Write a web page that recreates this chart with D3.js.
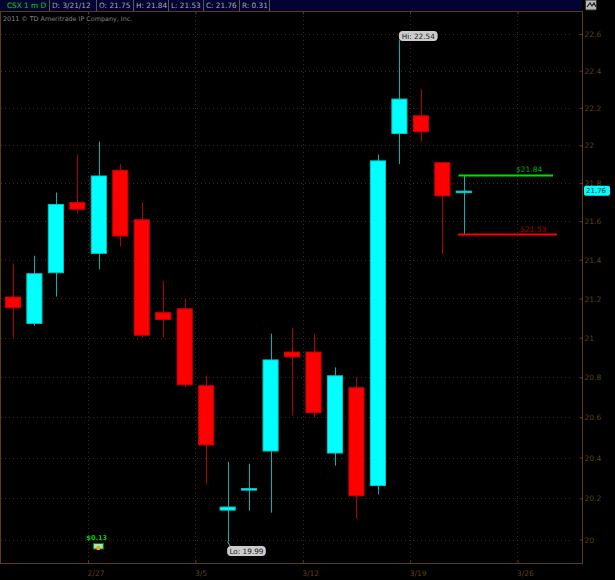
<!DOCTYPE html>
<html><head><meta charset="utf-8">
<style>html,body{margin:0;padding:0;background:#000}svg{display:block}text{font-family:"DejaVu Sans",sans-serif}</style>
<script src="https://cdnjs.cloudflare.com/ajax/libs/d3/7.8.5/d3.min.js"></script>
</head><body><svg id="c" width="615" height="580"></svg>
<script>
const dates=["2/21","2/22","2/23","2/24","2/27","2/28","2/29","3/1","3/2","3/5","3/6","3/7","3/8","3/9","3/12","3/13","3/14","3/15","3/16","3/19","3/20","3/21","3/22","3/23","3/26","3/27","3/28"];
const opens =[21.21,21.07,21.33,21.70,21.43,21.87,21.61,21.13,21.15,20.76,20.14,20.24,20.43,20.93,20.93,20.42,20.75,20.26,22.06,22.16,21.91,21.75];
const highs =[21.38,21.42,21.75,21.95,22.02,21.90,21.70,21.29,21.20,20.81,20.38,20.37,21.02,21.05,21.02,20.85,20.80,21.95,22.54,22.30,21.91,21.84];
const lows  =[21.00,21.06,21.21,21.64,21.35,21.47,21.00,21.00,20.75,20.27,19.99,20.14,20.13,20.61,20.60,20.36,20.10,20.22,21.90,22.02,21.43,21.53];
const closes=[21.15,21.33,21.69,21.66,21.84,21.52,21.01,21.09,20.76,20.46,20.16,20.25,20.89,20.90,20.62,20.81,20.21,21.92,22.25,22.07,21.73,21.76];
const yTicks=[22.6,22.4,22.2,22,21.8,21.6,21.4,21.2,21,20.8,20.6,20.4,20.2,20];
const xTicks=["2/27","3/5","3/12","3/19","3/26"];
const headerCells=["CSX 1 m D","D: 3/21/12","O: 21.75","H: 21.84","L: 21.53","C: 21.76","R: 0.31"];
const headerEdges=[0,49,96,133,168,203,239,269];
const hiValue=22.54,hiDate="3/16",loValue=19.99,loDate="3/6",lastValue=21.76,highLine=21.84,lowLine=21.53;
const dividend="$0.13",dividendDate="2/27",dividendValue=20.0;

const svg=d3.select("#c");
const L=1,R=582,T=12,B=563;
const BROWN="#5e3c12",GRID="#402a0c",LABEL="#5f4016";
const x=d3.scaleBand().domain(dates).range([2.2,581.9]).paddingInner(0.25).paddingOuter(0.125);
const step=x.step();
const tickX=d=>x(d)-(step-x.bandwidth())/2;
const cx=d=>x(d)+x.bandwidth()/2;
const y=d3.scaleLog().domain([20,22.6]).range([539.5,34]);

svg.append("rect").attr("width",615).attr("height",580).attr("fill","#000");

// grid
const grid=svg.append("g").attr("fill","none").attr("stroke",GRID).attr("stroke-width",1).attr("stroke-dasharray","1 3");
grid.selectAll("line.h").data(yTicks).join("line").attr("class","h")
  .attr("x1",L).attr("x2",R-9).attr("y1",d=>Math.round(y(d))+.5).attr("y2",d=>Math.round(y(d))+.5);
grid.selectAll("line.v").data(xTicks).join("line").attr("class","v")
  .attr("x1",d=>Math.round(tickX(d))+.5).attr("x2",d=>Math.round(tickX(d))+.5).attr("y1",T).attr("y2",B);

// axes
const axR=svg.append("g").attr("transform",`translate(${R+.5},0)`)
  .call(d3.axisLeft(y).tickValues(yTicks).tickSize(3).tickFormat(d3.format("~g")));
axR.selectAll("text").attr("x",2).attr("text-anchor","start").attr("fill",LABEL).attr("font-size",7.5).attr("dy","0.35em");
const axB=svg.append("g").attr("transform",`translate(0,${B+.5})`)
  .call(d3.axisTop(d3.scaleOrdinal().domain(xTicks).range(xTicks.map(tickX))).tickSize(3));
axB.selectAll("text").attr("y",9.5).attr("dy","0.35em").attr("text-anchor","start").attr("dx",-1).attr("fill",LABEL).attr("font-size",7.5);
axB.selectAll("line").attr("stroke",BROWN);
axR.selectAll("line").attr("stroke",BROWN);
axB.select(".domain").attr("stroke",BROWN).attr("d",`M0,0H${R+1}`);
axR.select(".domain").attr("stroke",BROWN).attr("d",`M0,${T}V${B}`);
const axT=svg.append("g").attr("transform",`translate(0,${T-.5})`)
  .call(d3.axisBottom(d3.scaleOrdinal().domain(xTicks).range(xTicks.map(tickX))).tickSize(3).tickFormat(""));
axT.selectAll("line").attr("stroke",BROWN);
axT.select(".domain").attr("stroke",BROWN).attr("d",`M0,0H${R+1}`);
svg.append("line").attr("x1",.5).attr("x2",.5).attr("y1",T).attr("y2",B).attr("stroke",BROWN);

// header
const hdr=svg.append("g");
hdr.append("rect").attr("width",R).attr("height",T-1).attr("fill","#020233");
hdr.selectAll("line").data(headerEdges.slice(1)).join("line")
  .attr("x1",d=>d+.5).attr("x2",d=>d+.5).attr("y1",0).attr("y2",T-1).attr("stroke","#5e5a4a");
hdr.selectAll("text").data(headerCells).join("text")
  .attr("x",(d,i)=>headerEdges[i]+(i?3:7)).attr("y",8).attr("font-size",7.3)
  .attr("fill",(d,i)=>i?"#aaaaaa":"#12b012").attr("stroke",(d,i)=>i?"none":"#12b012").attr("stroke-width",.2).text(d=>d);
svg.append("rect").attr("x",585.5).attr("y",0).attr("width",11).attr("height",10).attr("rx",1).attr("fill","#b8b8b8").attr("stroke","#333");
svg.append("path").attr("d","M587,7L590,3L592,6L594,3L596,7").attr("fill","none").attr("stroke","#222").attr("stroke-width",1.2);
svg.append("text").attr("x",3).attr("y",20.5).attr("font-size",6.4).attr("fill","#808080").text("2011 © TD Ameritrade IP Company, Inc.");

// candles
const candles=opens.map((o,i)=>({d:dates[i],o,h:highs[i],l:lows[i],c:closes[i]}));
const up=d=>d.c>=d.o;
const g=svg.append("g");
g.selectAll("line").data(candles).join("line")
  .attr("x1",d=>Math.round(cx(d.d))+.5).attr("x2",d=>Math.round(cx(d.d))+.5)
  .attr("y1",d=>y(d.h)).attr("y2",d=>y(d.l))
  .attr("stroke",d=>up(d)?"#00b4b4":"#b00000").attr("stroke-width",1);
g.selectAll("rect").data(candles).join("rect")
  .attr("x",d=>x(d.d)+.5).attr("width",x.bandwidth()-1)
  .attr("y",d=>y(Math.max(d.o,d.c))+.5).attr("height",d=>Math.max(1.5,Math.abs(y(d.o)-y(d.c))-1))
  .attr("fill",d=>up(d)?"#00ffff":"#ff0000")
  .attr("stroke",d=>up(d)?"#00c8c8":"#cc0000");

// high/low bubbles
function bubble(px,py,txt,below){
  const gg=svg.append("g");
  const w=txt.length*4.3, bx=below?px-.5:px-.5, by=below?py+4.5:py-14;
  gg.append("path").attr("d",below?`M${px},${py}L${px+3},${by+1}`:`M${px},${py}L${px},${by+9}`).attr("stroke",below?"#999":"#00b4b4").attr("fill","none");
  gg.append("rect").attr("x",bx).attr("y",by).attr("width",w).attr("height",10).attr("rx",4).attr("fill","#cccccc");
  gg.append("text").attr("x",bx+w/2).attr("y",by+7.8).attr("text-anchor","middle").attr("font-size",7.3).attr("fill","#222").text(txt);
}
bubble(cx(hiDate),y(hiValue),"Hi: "+hiValue,false);
bubble(cx(loDate),y(loValue),"Lo: "+loValue,true);

// target lines
const targets=[{v:highLine,s:"#00dd00",tc:"#00aa00",x1:458.5,x2:553,tx:516},{v:lowLine,s:"#ff0000",tc:"#aa0000",x1:458,x2:557,tx:520}];
targets.forEach(t=>{
  svg.append("line").attr("x1",t.x1).attr("x2",t.x2).attr("y1",y(t.v)).attr("y2",y(t.v)).attr("stroke",t.s).attr("stroke-width",2);
  svg.append("text").attr("x",t.tx).attr("y",y(t.v)-3).attr("font-size",7.5).attr("fill",t.tc).text("$"+t.v);
});

// last price tag
svg.append("rect").attr("x",584).attr("y",y(lastValue)-5).attr("width",26).attr("height",10).attr("rx",2).attr("fill","#00ffff");
svg.append("text").attr("x",586).attr("y",y(lastValue)+2.7).attr("font-size",7).attr("fill","#033").text(lastValue);

// dividend
const dx=cx(dividendDate),dy=y(dividendValue);
svg.append("text").attr("x",dx-12.5).attr("y",dy).attr("font-size",6.6).attr("font-weight",700).attr("fill","#00cc00").text(dividend);
svg.append("rect").attr("x",dx-5.5).attr("y",dy+4).attr("width",10).attr("height",5.5).attr("fill","#9fe8b8").attr("stroke","#008800");
svg.append("circle").attr("cx",dx-.5).attr("cy",dy+8.5).attr("r",2.2).attr("fill","#f0a020");
</script></body></html>
